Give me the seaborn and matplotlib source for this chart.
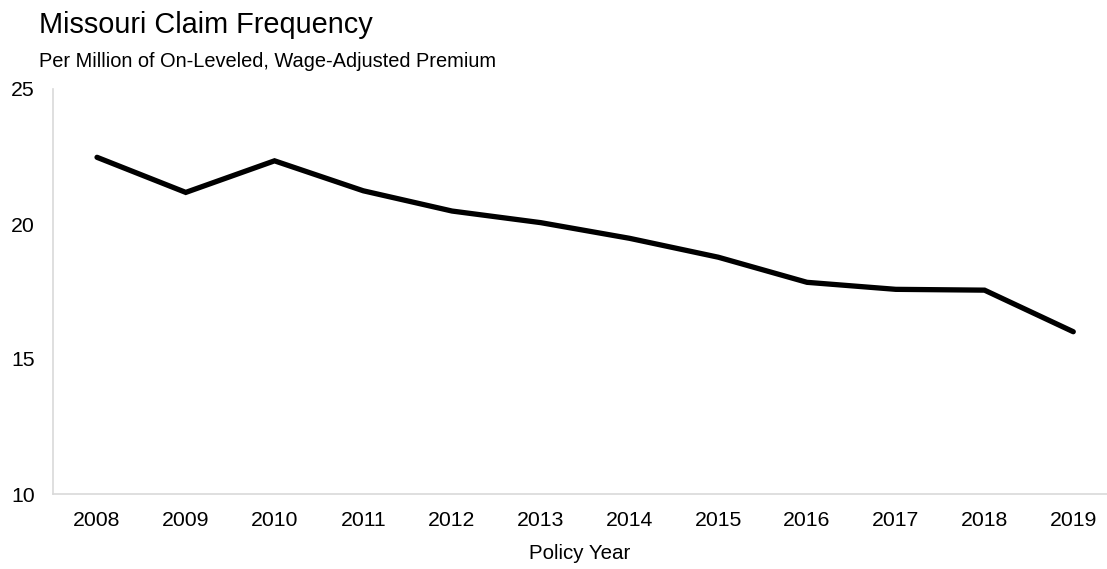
import matplotlib
matplotlib.use("Agg")
import matplotlib.pyplot as plt
import seaborn as sns
import pandas as pd

# Claim frequency per million of on-leveled, wage-adjusted premium
policy_years = ["2008", "2009", "2010", "2011", "2012", "2013",
                "2014", "2015", "2016", "2017", "2018", "2019"]
claim_frequency = [22.47, 21.17, 22.34, 21.23, 20.48, 20.05,
                   19.47, 18.77, 17.84, 17.58, 17.55, 16.01]
y_ticks = [10, 15, 20, 25]

sns.set_theme(style="white")
plt.rcParams["font.family"] = ["Liberation Sans", "DejaVu Sans"]

df = pd.DataFrame({"Policy Year": policy_years, "Frequency": claim_frequency})

fig = plt.figure(figsize=(11.07, 5.69), dpi=100)
ax = fig.add_axes([53 / 1107, 1 - 494 / 569, 1054 / 1107, (494 - 89) / 569])

sns.lineplot(data=df, x="Policy Year", y="Frequency", ax=ax, sort=False,
             color="black", linewidth=3.8)
for line in ax.lines:
    line.set_solid_joinstyle("miter")
    line.set_solid_capstyle("round")

ax.set_xlim(-0.496, 11.38)
ax.set_ylim(10, 25)
ax.set_yticks(y_ticks)
ax.set_yticklabels([str(t) for t in y_ticks])

for side in ("top", "right"):
    ax.spines[side].set_visible(False)
for side in ("left", "bottom"):
    ax.spines[side].set_color("#d9d9d9")
    ax.spines[side].set_linewidth(1.2)

ax.tick_params(axis="both", length=0, labelsize=15.3, colors="black")
ax.tick_params(axis="x", pad=12.5)
ax.tick_params(axis="y", pad=13)
ax.set_ylabel("")
ax.set_xlabel("Policy Year", fontsize=14.8, color="black", labelpad=10)

fig.text(39 / 1107, 1 - 33 / 569, "Missouri Claim Frequency",
         fontsize=20.8, va="baseline", ha="left", color="black")
fig.text(39 / 1107, 1 - 67 / 569, "Per Million of On-Leveled, Wage-Adjusted Premium",
         fontsize=14.4, va="baseline", ha="left", color="black")

fig.savefig("out.png", dpi=100, facecolor="white")
